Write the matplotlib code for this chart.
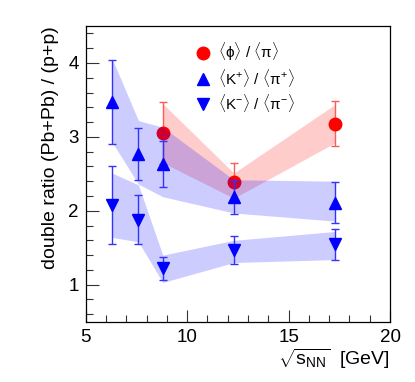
import matplotlib
matplotlib.use("Agg")
import matplotlib.pyplot as plt
from matplotlib.lines import Line2D
from matplotlib.ticker import MultipleLocator
import numpy as np

plt.rcParams['font.family'] = ['Liberation Sans', 'DejaVu Sans']
plt.rcParams['mathtext.fontset'] = 'custom'
plt.rcParams['mathtext.rm'] = 'Liberation Sans'
plt.rcParams['mathtext.it'] = 'Liberation Sans'
plt.rcParams['mathtext.sf'] = 'Liberation Sans'

# --- data ---
sqrt_s_K = [6.3, 7.6, 8.8, 12.3, 17.3]
sqrt_s_phi = [8.8, 12.3, 17.3]

kp_val = [3.47, 2.77, 2.63, 2.18, 2.11]
kp_stat = [0.57, 0.35, 0.31, 0.23, 0.28]
kp_sys_lo = [2.93, 2.36, 2.19, 1.97, 1.86]
kp_sys_hi = [4.06, 3.22, 3.13, 2.42, 2.40]

km_val = [2.08, 1.88, 1.22, 1.47, 1.55]
km_stat = [0.53, 0.33, 0.16, 0.19, 0.21]
km_sys_lo = [1.64, 1.58, 1.03, 1.30, 1.34]
km_sys_hi = [2.51, 2.35, 1.40, 1.60, 1.72]

phi_val = [3.05, 2.39, 3.18]
phi_stat = [0.42, 0.25, 0.30]
phi_sys_lo = [2.65, 2.17, 2.92]
phi_sys_hi = [3.45, 2.51, 3.44]

labels = [r'$\langle\phi\rangle$ / $\langle\pi\rangle$',
          r'$\langle$K$^{+}\rangle$ / $\langle\pi^{+}\rangle$',
          r'$\langle$K$^{-}\rangle$ / $\langle\pi^{-}\rangle$']

fig = plt.figure(figsize=(4.15, 3.82), dpi=100)
ax = fig.add_axes([0.2065, 0.158, 0.7333, 0.774])

# bands
ax.fill_between(sqrt_s_phi, phi_sys_lo, phi_sys_hi, color=(1, 0.8, 0.8), lw=0, zorder=1)
ax.errorbar(sqrt_s_phi, phi_val, yerr=phi_stat, fmt='o', color='red', ecolor=(1, 0.35, 0.35),
            ms=9, capsize=3, elinewidth=1, capthick=1, zorder=2)
ax.fill_between(sqrt_s_K, kp_sys_lo, kp_sys_hi, color='blue', alpha=0.2, lw=0, zorder=3)
ax.fill_between(sqrt_s_K, km_sys_lo, km_sys_hi, color='blue', alpha=0.2, lw=0, zorder=3)
ax.errorbar(sqrt_s_K, kp_val, yerr=kp_stat, fmt='^', color='blue', ecolor=(0.2, 0.2, 1),
            ms=9, capsize=3, elinewidth=1, capthick=1, zorder=4)
ax.errorbar(sqrt_s_K, km_val, yerr=km_stat, fmt='v', color='blue', ecolor=(0.2, 0.2, 1),
            ms=9, capsize=3, elinewidth=1, capthick=1, zorder=4)

ax.set_xlim(5, 20)
ax.set_ylim(0.5, 4.5)
ax.xaxis.set_major_locator(MultipleLocator(5))
ax.xaxis.set_minor_locator(MultipleLocator(1))
ax.yaxis.set_major_locator(MultipleLocator(1))
ax.yaxis.set_minor_locator(MultipleLocator(0.2))
ax.tick_params(which='both', direction='in', top=False, right=False, labelsize=13.5, width=0.8, color='#333333')
ax.tick_params(which='major', length=9, pad=5)
ax.tick_params(which='minor', length=5)
for s in ax.spines.values():
    s.set_linewidth(0.9)

ax.set_xlabel(r'$\sqrt{{\rm s}_{\rm NN}}$  [GeV]', fontsize=14, loc='right', labelpad=1)
ax.set_ylabel('double ratio (Pb+Pb) / (p+p)', fontsize=14, loc='top', labelpad=7)

handles = [Line2D([], [], ls='none', marker='o', color='red', ms=9),
           Line2D([], [], ls='none', marker='^', color='blue', ms=9),
           Line2D([], [], ls='none', marker='v', color='blue', ms=9)]
ax.legend(handles, labels, loc='upper left', bbox_to_anchor=(0.314, 0.995), frameon=False,
          fontsize=11, handlelength=1.0, handletextpad=0.5, labelspacing=0.23)

fig.savefig('out.png', dpi=100)
